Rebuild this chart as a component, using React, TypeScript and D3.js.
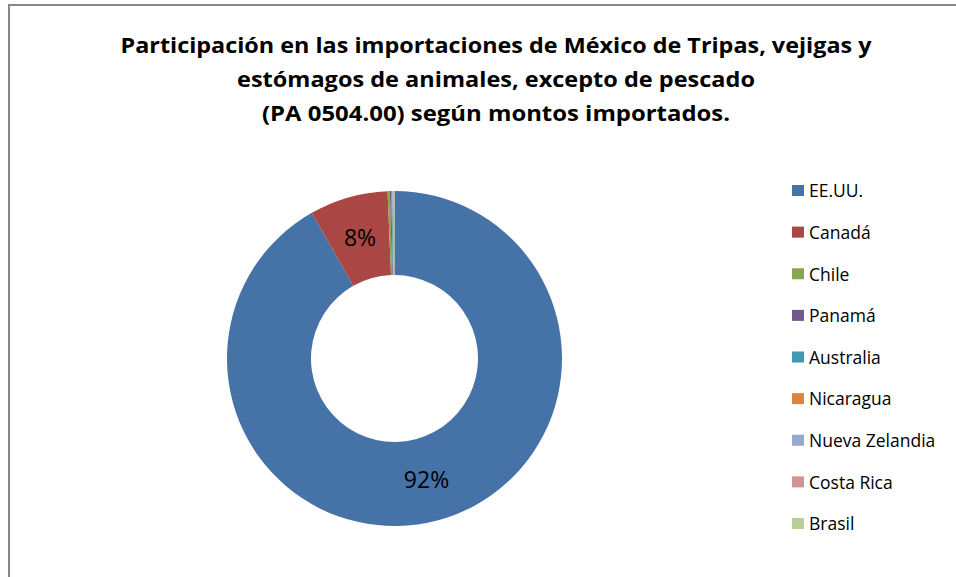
import React, { useRef, useEffect } from "react";
import * as d3 from "d3";

const countries = [
  "EE.UU.",
  "Canadá",
  "Chile",
  "Panamá",
  "Australia",
  "Nicaragua",
  "Nueva Zelandia",
  "Costa Rica",
  "Brasil",
];

// share of imported amounts, in percent
const shares = [91.75, 7.55, 0.22, 0.13, 0.1, 0.03, 0.1, 0.05, 0.03];

const colors = [
  "#4572A7",
  "#AA4643",
  "#89A54E",
  "#71588F",
  "#4198AF",
  "#DB843D",
  "#93A9CF",
  "#D19392",
  "#B9CD96",
];

const titleLines = [
  "Participación en las importaciones de México de Tripas, vejigas y",
  "estómagos de animales, excepto de pescado",
  "(PA 0504.00) según montos importados.",
];

// rendered widths of the title lines
const titleWidths = [751, 518, 468];

interface Slice {
  country: string;
  share: number;
}

const App = () => {
  const svgRef = useRef<SVGSVGElement>(null);

  useEffect(() => {
    if (!svgRef.current) return;

    const width = 956;
    const height = 577;
    const data: Slice[] = countries.map((c, i) => ({ country: c, share: shares[i] }));

    const svg = d3.select(svgRef.current);
    svg.selectAll("*").remove();
    svg.attr("width", width).attr("height", height);

    svg.append("rect")
      .attr("width", width)
      .attr("height", height)
      .attr("fill", "#fff");

    // chart frame, only top and left edges are visible
    svg.append("rect")
      .attr("x", 9)
      .attr("y", 5)
      .attr("width", 1200)
      .attr("height", 1200)
      .attr("fill", "none")
      .attr("stroke", "#878787")
      .attr("stroke-width", 2);

    svg.append("g")
      .selectAll("text")
      .data(titleLines)
      .join("text")
      .attr("x", 496)
      .attr("y", (_, i) => 53 + i * 34)
      .attr("text-anchor", "middle")
      .attr("textLength", (_, i) => titleWidths[i])
      .attr("lengthAdjust", "spacingAndGlyphs")
      .style("font-family", "'Open Sans', sans-serif")
      .style("font-weight", "bold")
      .style("font-size", "22px")
      .attr("fill", "#000")
      .text(d => d);

    const cx = 394.5;
    const cy = 358.5;
    const outer = 167.5;
    const inner = 83.5;

    const color = d3.scaleOrdinal<string, string>().domain(countries).range(colors);

    const pie = d3.pie<Slice>().value(d => d.share).sort(null);
    const arc = d3.arc<d3.PieArcDatum<Slice>>().innerRadius(inner).outerRadius(outer);
    const labelArc = d3.arc<d3.PieArcDatum<Slice>>()
      .innerRadius((inner + outer) / 2)
      .outerRadius((inner + outer) / 2);

    const arcs = pie(data);
    const g = svg.append("g").attr("transform", `translate(${cx},${cy})`);

    g.selectAll("path")
      .data(arcs)
      .join("path")
      .attr("d", arc)
      .attr("fill", d => color(d.data.country));

    g.selectAll("text")
      .data(arcs.filter(d => d.data.share >= 1))
      .join("text")
      .attr("transform", d => `translate(${labelArc.centroid(d)})`)
      .attr("text-anchor", "middle")
      .attr("dy", "0.36em")
      .style("font-family", "'Open Sans', sans-serif")
      .style("font-size", "23px")
      .attr("fill", "#000")
      .text(d => `${Math.round(d.data.share)}%`);

    // legend
    const legendY = d3.scalePoint<string>().domain(countries).range([191, 524]);
    const legend = svg.append("g")
      .selectAll("g")
      .data(countries)
      .join("g")
      .attr("transform", d => `translate(792,${legendY(d)})`);

    legend.append("rect")
      .attr("x", 0)
      .attr("y", -6)
      .attr("width", 12)
      .attr("height", 11)
      .attr("fill", d => color(d));

    legend.append("text")
      .attr("x", 17)
      .attr("dy", "0.36em")
      .style("font-family", "'Open Sans', sans-serif")
      .style("font-size", "17.5px")
      .attr("fill", "#000")
      .text(d => d);
  }, []);

  return (
    <div style={{ position: "fixed", left: 0, top: 0 }}>
      <svg ref={svgRef} style={{ display: "block" }}></svg>
    </div>
  );
};

export default App;
